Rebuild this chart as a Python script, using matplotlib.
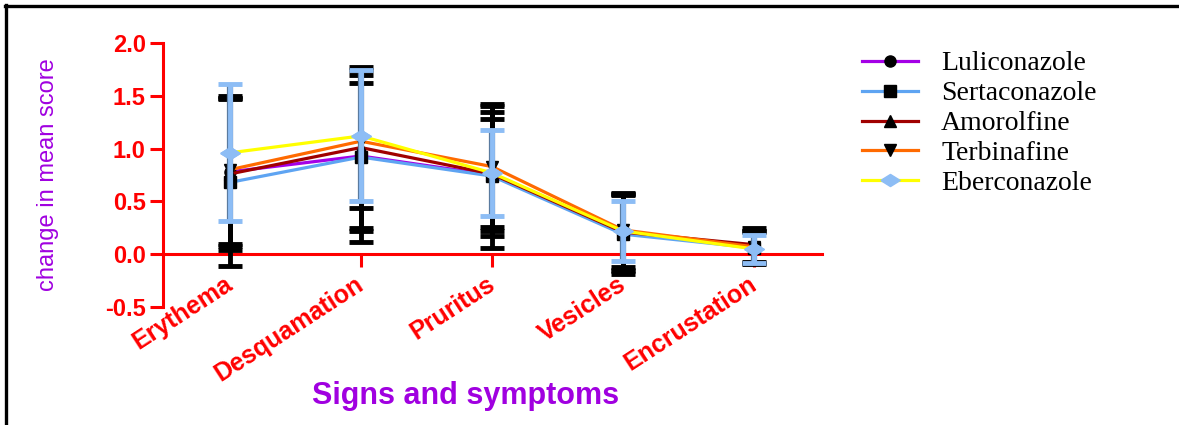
import matplotlib
matplotlib.use("Agg")
import matplotlib.pyplot as plt
from matplotlib.lines import Line2D
import matplotlib.patheffects as pe
import matplotlib.transforms as mtransforms
import numpy as np

categories = ["Erythema", "Desquamation", "Pruritus", "Vesicles", "Encrustation"]

drugs = ["Luliconazole", "Sertaconazole", "Amorolfine", "Terbinafine", "Eberconazole"]
luliconazole_mean = [0.78, 0.93, 0.75, 0.20, 0.07]
sertaconazole_mean = [0.68, 0.92, 0.74, 0.19, 0.06]
amorolfine_mean = [0.76, 1.01, 0.76, 0.21, 0.09]
terbinafine_mean = [0.80, 1.07, 0.83, 0.23, 0.07]
eberconazole_mean = [0.96, 1.12, 0.77, 0.22, 0.05]

luliconazole_sd = [0.70, 0.81, 0.53, 0.36, 0.15]
sertaconazole_sd = [0.79, 0.70, 0.68, 0.38, 0.15]
amorolfine_sd = [0.72, 0.76, 0.59, 0.36, 0.16]
terbinafine_sd = [0.70, 0.63, 0.57, 0.35, 0.15]
eberconazole_sd = [0.65, 0.62, 0.41, 0.28, 0.13]

means = [luliconazole_mean, sertaconazole_mean, amorolfine_mean,
         terbinafine_mean, eberconazole_mean]
sds = [luliconazole_sd, sertaconazole_sd, amorolfine_sd,
       terbinafine_sd, eberconazole_sd]

# wide diamond used for Eberconazole
wide_diamond = [(-1.6, 0.0), (0.0, 1.0), (1.6, 0.0), (0.0, -1.0), (-1.6, 0.0)]

line_colors = ["#A400E6", "#5EA4F2", "#A00000", "#FF6A00", "#FFFF00"]
markers = ["o", "s", "^", "v", wide_diamond]
marker_sizes = [8, 8, 8, 8, 14]
marker_colors = ["black", "black", "black", "black", "#8DBDF5"]
err_colors = ["black", "black", "black", "black", "#8DBDF5"]

RED = "#FF0000"
PURPLE = "#A000E0"

plt.rcParams["font.family"] = ["Liberation Sans", "DejaVu Sans"]

fig = plt.figure(figsize=(11.79, 4.25), dpi=100)
ax = fig.add_axes([163 / 1179, 1 - 307 / 425, 659 / 1179, 264 / 425])

x = np.arange(len(categories))

handles = []
for i, name in enumerate(drugs):
    ln, = ax.plot(x, means[i], color=line_colors[i], lw=2.3,
                  marker=markers[i], markersize=marker_sizes[i],
                  markerfacecolor=marker_colors[i], markeredgecolor=marker_colors[i],
                  label=name, zorder=3 + i * 0.1)
    handles.append(ln)

for i, name in enumerate(drugs):
    eb = ax.errorbar(x, means[i], yerr=sds[i], fmt="none", ecolor=err_colors[i],
                     elinewidth=3.5, capsize=8.5, capthick=3.5,
                     zorder=4 + i * 0.1)
    if i == 4:
        for art in eb.lines[2]:
            art.set_path_effects([pe.Stroke(linewidth=4.5, foreground="#5A7BA0"), pe.Normal()])

# Eberconazole markers on top of its error bars
ax.plot(x, eberconazole_mean, linestyle="none", marker=wide_diamond, markersize=14,
        color="#8DBDF5", zorder=6)

ax.set_xlim(-0.51, 4.52)
ax.set_ylim(-0.5, 2.0)

for s in ["top", "right"]:
    ax.spines[s].set_visible(False)
ax.spines["bottom"].set_position(("data", 0))
ax.spines["left"].set_color(RED)
ax.spines["bottom"].set_color(RED)
ax.spines["left"].set_linewidth(2.2)
ax.spines["bottom"].set_linewidth(2.2)

ax.tick_params(axis="y", colors=RED, length=9.5, width=2.2, direction="out",
               pad=3, labelsize=17)
ax.tick_params(axis="x", colors=RED, length=9, width=2.2, direction="out",
               pad=4, labelsize=18)

ax.set_yticks([-0.5, 0.0, 0.5, 1.0, 1.5, 2.0])
ax.set_yticklabels(["-0.5", "0.0", "0.5", "1.0", "1.5", "2.0"],
                   fontweight="bold", color=RED)
ax.set_xticks(x)
ax.set_xticklabels(categories, fontweight="bold", color=RED)

# rotated labels, nudged so their ends sit at the tick marks
offset = mtransforms.ScaledTranslation(-6 / 100, 0, fig.dpi_scale_trans)
for lab in ax.get_xticklabels():
    lab.set_rotation(33)
    lab.set_ha("right")
    lab.set_va("top")
    lab.set_rotation_mode("anchor")
    lab.set_transform(lab.get_transform() + offset)

ax.set_ylabel("change in mean score", color=PURPLE, fontsize=17)
ax.yaxis.set_label_coords(-0.158, 0.5)

fig.text(466 / 1179, 1 - 396 / 425, "Signs and symptoms", color=PURPLE,
         fontsize=22, fontweight="bold", ha="center", va="center")

leg = fig.legend(handles=handles, loc="upper left",
                 bbox_to_anchor=(862 / 1179, 1 - 51 / 425),
                 frameon=False, prop={"family": "Liberation Serif", "size": 20},
                 handlelength=2.0, handletextpad=0.85, labelspacing=0.16,
                 borderpad=0.0, borderaxespad=0.0)

# frame lines along the top and left edges of the figure
fig.add_artist(Line2D([5 / 1179, 1.0], [1 - 6 / 425, 1 - 6 / 425],
                      transform=fig.transFigure, color="black", lw=2.4))
fig.add_artist(Line2D([6 / 1179, 6 / 1179], [0.0, 1 - 5 / 425],
                      transform=fig.transFigure, color="black", lw=2.4))

fig.savefig("out.png", dpi=100)
